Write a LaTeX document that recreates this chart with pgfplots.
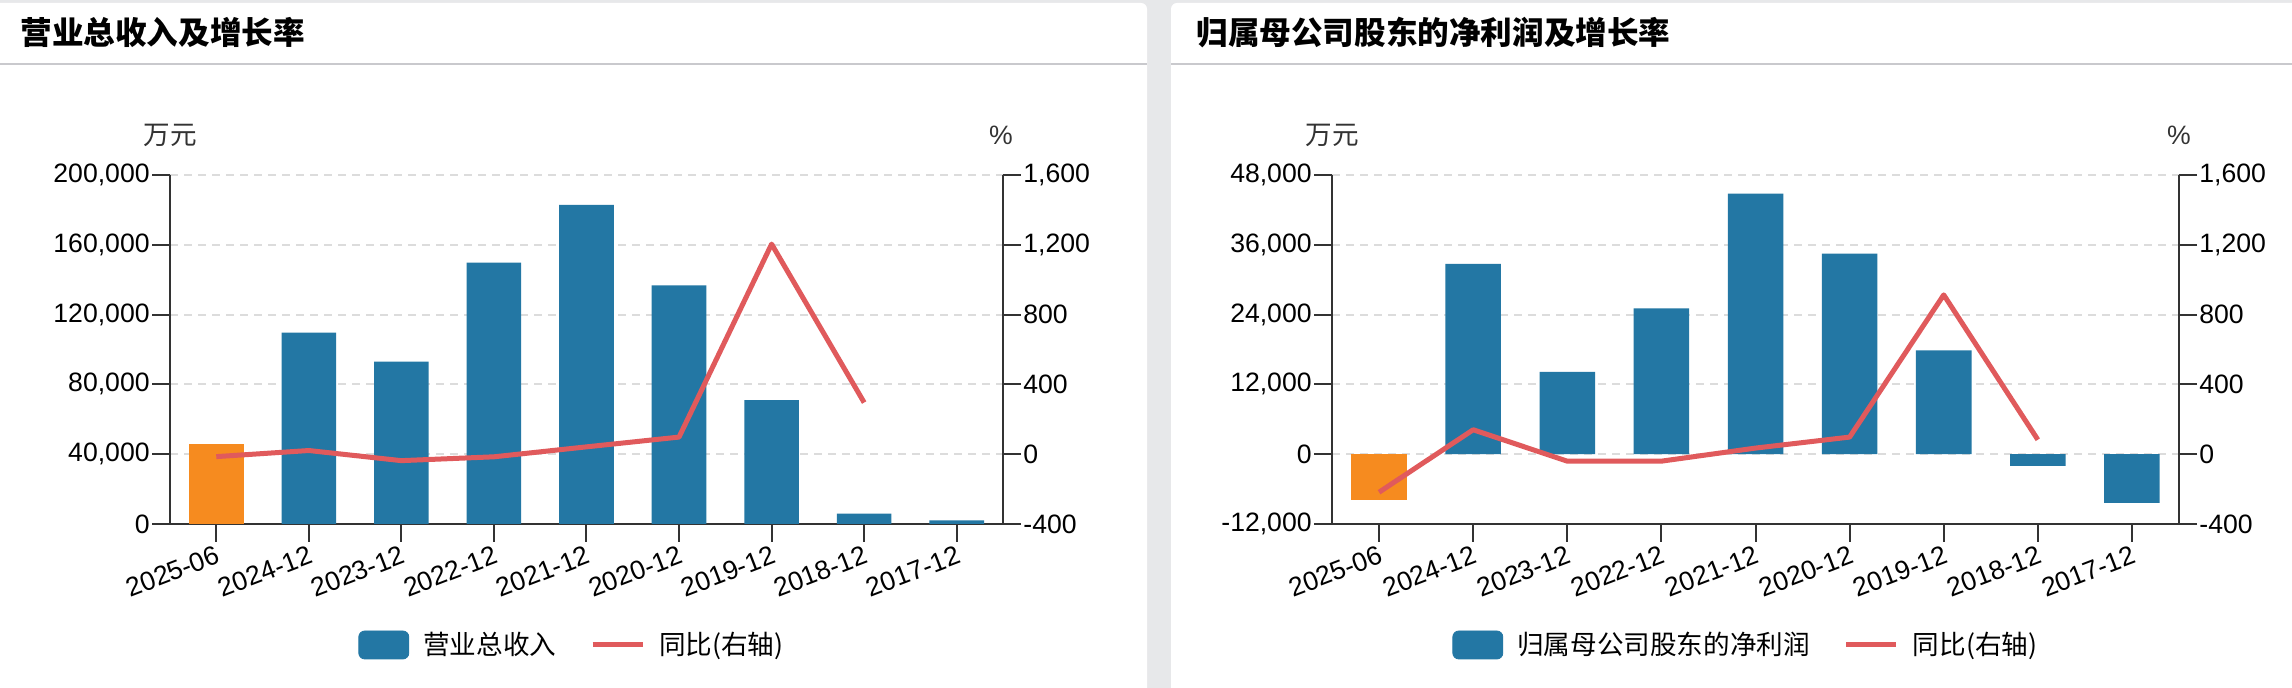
\documentclass[border=0pt]{standalone}
\usepackage{fontspec}
\setmainfont{Liberation Sans}
\newfontfamily\cjk{Noto Sans CJK SC}
\usepackage{pgfplots}
\pgfplotsset{compat=1.18}

\definecolor{barblue}{HTML}{2377A4}
\definecolor{barorange}{HTML}{F68B1F}
\definecolor{linered}{HTML}{E05A5C}
\definecolor{bggray}{HTML}{E7E8EA}
\definecolor{sepgray}{HTML}{C9C9CD}
\definecolor{gridgray}{HTML}{DCDCDC}
\definecolor{axisgray}{HTML}{333333}

\newcommand\tickfont{\fontsize{13.3}{16}\selectfont}

\pgfplotsset{
  panel/.style={
    scale only axis,
    height=174.5pt,
    xmin=-0.5, xmax=8.5,
    axis line style={axisgray, line width=1pt},
    tick style={axisgray, line width=1pt},
    tick align=outside,
    major tick length=9pt,
    tick label style={font=\tickfont, text=black},
    scaled y ticks=false,
  },
  barside/.style={
    panel,
    anchor=south west,
    axis x line*=bottom, axis y line*=left,
    xtick={0,...,8},
    xticklabels={2025-06,2024-12,2023-12,2022-12,2021-12,2020-12,2019-12,2018-12,2017-12},
    x tick label style={rotate=21, anchor=north east, inner sep=1pt},
    y tick label style={anchor=east, inner sep=1pt},
    ymajorgrids,
    grid style={gridgray, dash pattern=on 4pt off 3pt, line width=1pt},
  },
  rateside/.style={
    panel,
    anchor=south west,
    axis y line*=right, axis x line=none,
    xtick=\empty,
    ymin=-400, ymax=1600, ytick={-400,0,400,800,1200,1600},
    yticklabels={-400,0,400,800,{1,200},{1,600}},
    y tick label style={anchor=west, inner sep=1pt},
    legend columns=-1,
    legend style={draw=none, fill=none, anchor=west, inner sep=0pt,
      font=\tickfont\cjk, text=black, cells={anchor=west},
      /tikz/every odd column/.append style={column sep=5pt},
      /tikz/every even column/.append style={column sep=15pt}},
  },
  bars/.style={ybar, bar shift=0pt, bar width=0.59, draw=none},
  rateline/.style={linered, line width=2.5pt, line join=round, mark=none,
    legend image code/.code={\draw[linered, line width=2.5pt] (0pt,0pt) -- (25pt,0pt);}},
  barlegend/.style={legend image code/.code={%
    \fill[barblue, rounded corners=3pt] (0pt,-7pt) rectangle (25pt,7pt);}},
}

\begin{document}
\begin{tikzpicture}
\useasboundingbox (0,0) rectangle (1146pt,344pt);
\fill[bggray] (0,0) rectangle (1146pt,344pt);
\fill[white, rounded corners=3pt] (-6pt,-6pt) rectangle (573.5pt,342.5pt);
\fill[white, rounded corners=3pt] (585.5pt,-6pt) rectangle (1152pt,342.5pt);
\draw[sepgray, line width=1pt] (0,311.75pt) -- (573.5pt,311.75pt);
\draw[sepgray, line width=1pt] (585.5pt,311.75pt) -- (1146pt,311.75pt);
\node[anchor=west, inner sep=0pt, font=\fontsize{15.8}{18}\selectfont\cjk\bfseries] at (10pt,327.5pt) {营业总收入及增长率};
\node[anchor=west, inner sep=0pt, font=\fontsize{15.8}{18}\selectfont\cjk\bfseries] at (598pt,327.5pt) {归属母公司股东的净利润及增长率};
\node[inner sep=0pt, font=\tickfont\cjk, text=axisgray] at (85pt,276.5pt) {万元};
\node[inner sep=0pt, font=\tickfont, text=axisgray] at (500.5pt,276.5pt) {\%};
\node[inner sep=0pt, font=\tickfont\cjk, text=axisgray] at (666pt,276.5pt) {万元};
\node[inner sep=0pt, font=\tickfont, text=axisgray] at (1089.5pt,276.5pt) {\%};

% left panel: revenue
\begin{axis}[barside, at={(85pt,82pt)}, width=416.5pt,
  ymin=0, ymax=200000, ytick={0,40000,80000,120000,160000,200000},
  yticklabels={0,{40,000},{80,000},{120,000},{160,000},{200,000}}]
\addplot[bars, fill=barorange] coordinates {(0,45700)};
\addplot[bars, fill=barblue] coordinates {
  (1,109700) (2,93100) (3,149800) (4,182900) (5,136800) (6,71000) (7,6000) (8,2000)};
\end{axis}
\begin{axis}[rateside, at={(85pt,82pt)}, width=416.5pt,
  legend style={at={(0.2257,-0.3467)}}]
\addlegendimage{barlegend}
\addlegendentry{营业总收入}
\addplot[rateline] coordinates {
  (0,-14) (1,21) (2,-37) (3,-15) (4,42) (5,98) (6,1204) (7,296)};
\addlegendentry{同比(右轴)}
\end{axis}

% right panel: net profit
\begin{axis}[barside, at={(666pt,82pt)}, width=423.5pt,
  ymin=-12000, ymax=48000, ytick={-12000,0,12000,24000,36000,48000},
  yticklabels={{-12,000},0,{12,000},{24,000},{36,000},{48,000}}]
\addplot[bars, fill=barorange] coordinates {(0,-7900)};
\addplot[bars, fill=barblue] coordinates {
  (1,32700) (2,14150) (3,25070) (4,44800) (5,34480) (6,17840) (7,-2030) (8,-8360)};
\end{axis}
\begin{axis}[rateside, at={(666pt,82pt)}, width=423.5pt,
  legend style={at={(0.1417,-0.3467)}}]
\addlegendimage{barlegend}
\addlegendentry{归属母公司股东的净利润}
\addplot[rateline] coordinates {
  (0,-218) (1,140) (2,-40) (3,-40) (4,35) (5,98) (6,913) (7,83)};
\addlegendentry{同比(右轴)}
\end{axis}
\end{tikzpicture}
\end{document}
